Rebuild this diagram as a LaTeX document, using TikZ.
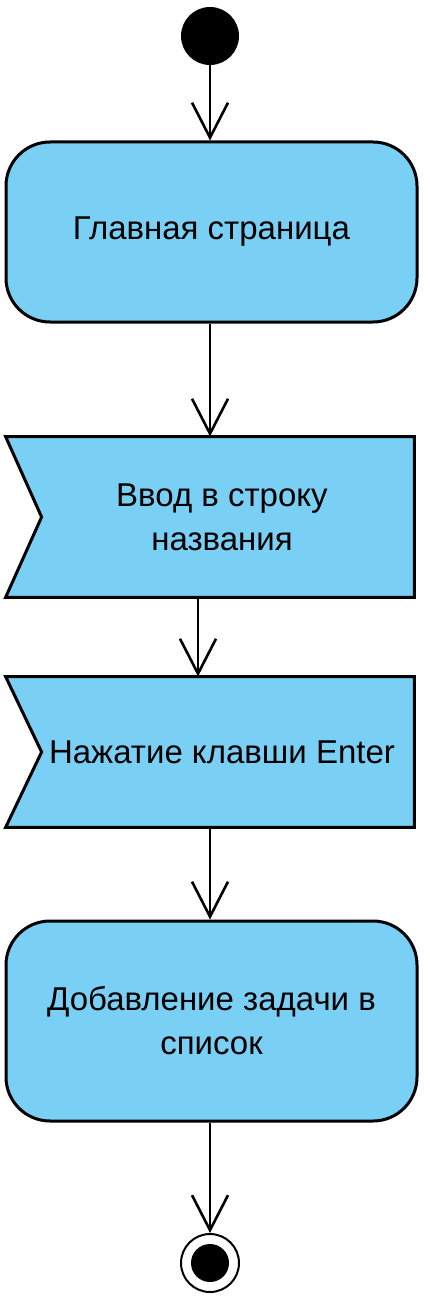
\documentclass[tikz,border=0pt]{standalone}
\usepackage{fontspec}
\setmainfont{Liberation Sans}
\usetikzlibrary{arrows.meta,backgrounds}
\definecolor{actblue}{RGB}{122,207,245}

\begin{document}
\begin{tikzpicture}[x=0.5pt,y=-0.5pt,
    font=\fontsize{16.5pt}{22pt}\selectfont,
    action/.style={rectangle,rounded corners=22pt,draw,line width=1.5pt,fill=actblue,
      minimum width=205.5pt,align=center},
    event/.style={rectangle,minimum width=186pt,align=center},
    flow/.style={line width=1.3pt,-{Straight Barb[length=17.5pt,width=18pt,line width=1.3pt]}}]
  \useasboundingbox (0,0) rectangle (429,1305);

  % начало
  \node[circle,fill=black,minimum size=29pt,inner sep=0pt] (start) at (210,36) {};

  % действия и события
  \node[action,minimum height=90pt] (main) at (211.5,232) {Главная страница};
  \node[event,minimum height=80pt] (input) at (222,517) {Ввод в строку\\названия};
  \node[event,minimum height=75pt] (enter) at (222,752) {Нажатие клавши Enter};
  \node[action,minimum height=100pt] (add) at (211.5,1021) {Добавление задачи в\\список};

  % конец
  \node[circle,draw,line width=1pt,minimum size=29pt,inner sep=0pt,
    path picture={\fill (path picture bounding box.center) circle (9.5pt);}] (finish) at (210,1263) {};

  % фигуры приёма сигнала
  \begin{scope}[on background layer]
    \foreach \n in {input,enter}
      \draw[line width=1.5pt,fill=actblue] ([xshift=-15pt]\n.north west) -- ([xshift=3pt]\n.north east)
        -- ([xshift=3pt]\n.south east) -- ([xshift=-15pt]\n.south west) -- ([xshift=3pt]\n.west) -- cycle;
  \end{scope}

  % переходы
  \draw[flow] (start) -- (start |- main.north);
  \draw[flow] (main.south -| start) -- (input.north -| start);
  \draw[flow] ([xshift=-12pt]input.south) -- ([xshift=-12pt]enter.north);
  \draw[flow] (enter.south -| start) -- (add.north -| start);
  \draw[flow] (add.south -| start) -- (finish);
\end{tikzpicture}
\end{document}
